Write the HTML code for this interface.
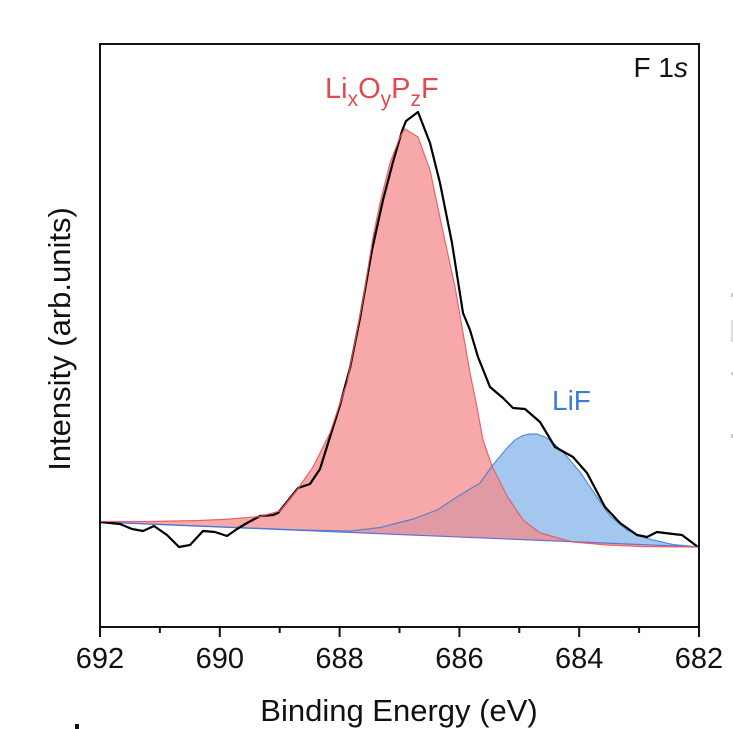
<!DOCTYPE html>
<html>
<head>
<meta charset="utf-8">
<style>
  html, body { margin: 0; padding: 0; background: #ffffff; }
  svg { display: block; }
  text { font-family: "Liberation Sans", Arial, sans-serif; }
</style>
</head>
<body>
<svg width="733" height="729" viewBox="0 0 733 729" xmlns="http://www.w3.org/2000/svg">
  <rect x="0" y="0" width="733" height="729" fill="#ffffff"/>

  <!-- Blue (LiF) fill -->
  <path d="M100,522 L300,530 L350,531 L380,527.5 L413,519 L437,510 L457,497 L470,489 L480,483 L492,466 L507,448 L515,440 L523,435.5 L530,434 L537,434 L545,437 L550,440 L563,452 L580,472 L597,497 L610,516 L627,530 L647,538.5 L673,544.5 L699,547 Z"
        fill="#4a90e2" fill-opacity="0.5" stroke="none"/>
  <!-- Red (LixOyPzF) fill -->
  <path d="M100,521.5 L150,521.5 L200,520.5 L230,519 L260,516.5 L280,511 L297,490 L313,467 L330,433 L347,383 L363,300 L373,237 L380,203 L390,163 L400,137 L405,129 L418,137 L430,170 L442,227 L455,287 L470,373 L476,402 L483,440 L492,466 L507,496 L523,520 L540,533 L573,542 L607,545 L640,546.5 L699,547 Z"
        fill="#f48b8b" fill-opacity="0.75" stroke="none"/>

  <!-- Baseline -->
  <line x1="100" y1="522" x2="699" y2="547" stroke="#6a6fd0" stroke-width="1.2"/>

  <!-- Blue outline -->
  <path d="M100,522 L300,530 L350,531 L380,527.5 L413,519 L437,510 L457,497 L470,489 L480,483 L492,466 L507,448 L515,440 L523,435.5 L530,434 L537,434 L545,437 L550,440 L563,452 L580,472 L597,497 L610,516 L627,530 L647,538.5 L673,544.5 L699,547"
        fill="none" stroke="#3a7bd5" stroke-width="1.2" stroke-opacity="0.8"/>

  <!-- Black raw data -->
  <path d="M100,522 L120,524 L132,529 L143,531 L154,526 L167,535 L179,547 L190,545 L203,531 L215,532 L227,536 L237,529 L247,523 L260,516 L273,515 L278,513 L298,488 L310,484 L320,469 L330,437 L340,405 L350,368 L360,318 L372,250 L383,200 L393,162 L402,131 L406,121 L418,112 L430,143 L440,183 L452,243 L463,313 L470,330 L478,357 L490,387 L503,398 L513,408 L525,409 L540,422 L555,447 L573,457 L587,473 L605,507 L620,523 L637,535 L647,537 L657,532 L673,534 L682,535 L698,547"
        fill="none" stroke="#000000" stroke-width="2.2" stroke-linejoin="round"/>

  <!-- Red outline -->
  <path d="M100,521.5 L150,521.5 L200,520.5 L230,519 L260,516.5 L280,511 L297,490 L313,467 L330,433 L347,383 L363,300 L373,237 L380,203 L390,163 L400,137 L405,129 L418,137 L430,170 L442,227 L455,287 L470,373 L476,402 L483,440 L492,466 L507,496 L523,520 L540,533 L573,542 L607,545 L640,546.5 L699,547"
        fill="none" stroke="#e8585c" stroke-width="1.2" stroke-opacity="0.9"/>

  <!-- Frame -->
  <rect x="100" y="44" width="599" height="583" fill="none" stroke="#111111" stroke-width="2"/>

  <!-- Bottom ticks -->
  <g stroke="#111111" stroke-width="2">
    <line x1="100" y1="627" x2="100" y2="637"/>
    <line x1="219.8" y1="627" x2="219.8" y2="637"/>
    <line x1="339.6" y1="627" x2="339.6" y2="637"/>
    <line x1="459.4" y1="627" x2="459.4" y2="637"/>
    <line x1="579.2" y1="627" x2="579.2" y2="637"/>
    <line x1="699" y1="627" x2="699" y2="637"/>
    <line x1="159.9" y1="627" x2="159.9" y2="633"/>
    <line x1="279.7" y1="627" x2="279.7" y2="633"/>
    <line x1="399.5" y1="627" x2="399.5" y2="633"/>
    <line x1="519.3" y1="627" x2="519.3" y2="633"/>
    <line x1="639.1" y1="627" x2="639.1" y2="633"/>
  </g>

  <!-- Tick labels -->
  <g font-size="29" fill="#111111" text-anchor="middle">
    <text x="100" y="668">692</text>
    <text x="219.8" y="668">690</text>
    <text x="339.6" y="668">688</text>
    <text x="459.4" y="668">686</text>
    <text x="579.2" y="668">684</text>
    <text x="699" y="668">682</text>
  </g>

  <!-- Axis titles -->
  <text x="399" y="721" font-size="31" fill="#111111" text-anchor="middle">Binding Energy (eV)</text>
  <text transform="translate(70,339) rotate(-90)" font-size="31" fill="#111111" text-anchor="middle">Intensity (arb.units)</text>

  <!-- Labels -->
  <text x="325" y="98" font-size="29" fill="#e24a4f">Li<tspan font-size="21" dy="8">x</tspan><tspan dy="-8">O</tspan><tspan font-size="21" dy="8">y</tspan><tspan dy="-8">P</tspan><tspan font-size="21" dy="8">z</tspan><tspan dy="-8">F</tspan></text>
  <text x="688" y="77" font-size="28" fill="#111111" text-anchor="end">F 1<tspan font-style="italic">s</tspan></text>
  <text x="552" y="410" font-size="28" fill="#3a7bd5">LiF</text>

  <!-- small stray marks -->
  <rect x="75" y="724" width="4" height="5" fill="#111111"/>
  <rect x="731" y="293" width="2" height="4" fill="#cccccc"/>
  <rect x="731" y="320" width="2" height="22" fill="#dddddd"/>
  <rect x="731" y="372" width="2" height="3" fill="#cccccc"/>
  <rect x="731" y="434" width="2" height="4" fill="#cccccc"/>
</svg>
</body>
</html>
